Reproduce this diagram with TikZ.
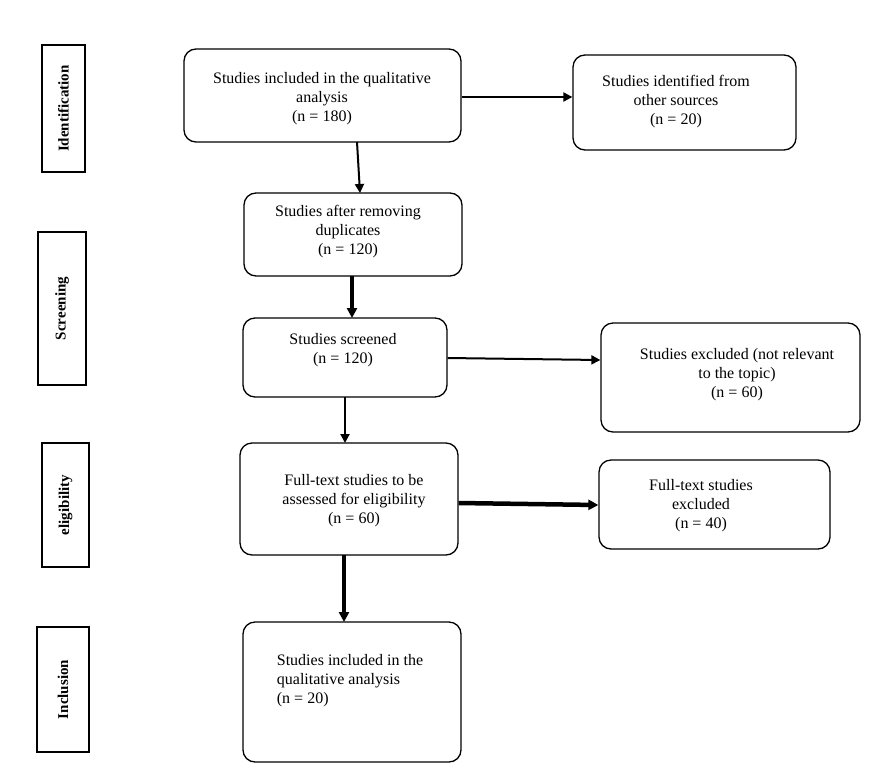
\documentclass[tikz,border=0pt]{standalone}
\usepackage{fontspec}
\setmainfont{Liberation Serif}
\usetikzlibrary{arrows.meta}
\begin{document}
\begin{tikzpicture}[x=1pt,y=-1pt,
  box/.style={draw,line width=1.3pt,rounded corners=12pt,align=center,font=\fontsize{16}{19}\selectfont,inner sep=0pt},
  side/.style={draw,line width=1.3pt,inner sep=0pt},
  sidetxt/.style={rotate=90,font=\bfseries\fontsize{15}{18}\selectfont},
  arr/.style={-{Triangle[length=9pt,width=9pt]},line width=2pt},
  thick arr/.style={-{Triangle[length=10pt,width=10pt]},line width=4.5pt}]
\useasboundingbox (0,0) rectangle (890,779);
% side labels
\node[side,minimum width=43pt,minimum height=127pt] (s1) at (63.5,108.5) {};
\node[sidetxt] at (s1) {Identification};
\node[side,minimum width=48pt,minimum height=153pt] (s2) at (62,308.5) {};
\node[sidetxt] at (s2) {Screening};
\node[side,minimum width=47pt,minimum height=124pt] (s3) at (65.5,505) {};
\node[sidetxt] at (s3) {eligibility};
\node[side,minimum width=52pt,minimum height=125pt] (s4) at (63,689.5) {};
\node[sidetxt] at (s4) {Inclusion};
% boxes
\node[box,minimum width=277pt,minimum height=93pt] (A) at (322.5,95.5) {};
\node at (322,99) [align=center,font=\fontsize{16}{19}\selectfont] {Studies included in the qualitative\\analysis\\(n = 180)};
\node[box,minimum width=223pt,minimum height=95pt] (B) at (684.5,102.5) {};
\node at (676,102) [align=center,font=\fontsize{16}{19}\selectfont] {Studies identified from\\other sources\\(n = 20)};
\node[box,minimum width=218pt,minimum height=83pt] (C) at (353,234.5) {};
\node at (348,232) [align=center,font=\fontsize{16}{19}\selectfont] {Studies after removing\\duplicates\\(n = 120)};
\node[box,minimum width=204pt,minimum height=79pt] (D) at (345,357.5) {};
\node at (343,350) [align=center,font=\fontsize{16}{19}\selectfont] {Studies screened\\(n = 120)};
\node[box,minimum width=259pt,minimum height=109pt] (E) at (730.5,377.5) {};
\node at (737,375) [align=center,font=\fontsize{16}{19}\selectfont] {Studies excluded (not relevant\\to the topic)\\(n = 60)};
\node[box,minimum width=218pt,minimum height=112pt] (F) at (349,499) {};
\node at (354,501) [align=center,font=\fontsize{16}{19}\selectfont] {Full-text studies to be\\assessed for eligibility\\(n = 60)};
\node[box,minimum width=231pt,minimum height=89pt] (G) at (714.5,504.5) {};
\node at (701,506) [align=center,font=\fontsize{16}{19}\selectfont] {Full-text studies\\excluded\\(n = 40)};
\node[box,minimum width=218pt,minimum height=140pt] (H) at (352,692) {};
\node at (350,681) [align=left,font=\fontsize{16}{19}\selectfont] {Studies included in the\\qualitative analysis\\(n = 20)};
% connectors
\draw[arr] (A.east |- 0,97) -- (B.west |- 0,97);
\draw[arr] (357,142) -- (360,193);
\draw[thick arr] (352,276) -- (352,318);
\draw[arr] (D.east |- 0,358) -- (E.west |- 0,360);
\draw[arr] (345,397) -- (345,443);
\draw[thick arr] (F.east |- 0,503) -- (G.west |- 0,505);
\draw[thick arr] (344,555) -- (344,622);
\end{tikzpicture}
\end{document}
